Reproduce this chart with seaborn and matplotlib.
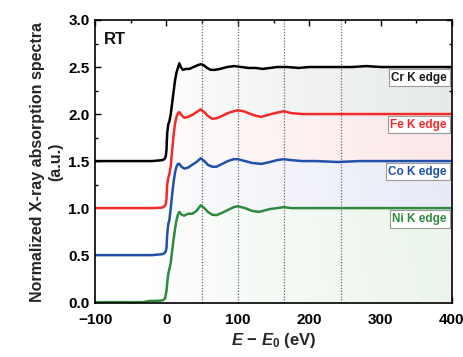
import numpy as np
import pandas as pd
import matplotlib
matplotlib.use("Agg")
import matplotlib.pyplot as plt
import seaborn as sns
from matplotlib.ticker import MultipleLocator, FormatStrFormatter
from matplotlib.colors import to_rgb

# Normalized K-edge XANES spectra (E - E0 in eV, normalized absorption)
cr_energy = [-100, -60, -20, -6, -3, -1, 0, 1, 2.5, 4, 6, 8, 10, 12, 14, 16, 18, 20, 23, 27, 32, 38,
             44, 48, 52, 57, 62, 68, 75, 85, 95, 105, 115, 125, 135, 145, 155, 170, 185, 200, 220,
             240, 260, 280, 300, 330, 360, 400]
cr_mu = [0, 0, 0, 0.01, 0.02, 0.05, 0.12, 0.30, 0.39, 0.42, 0.50, 0.62, 0.74, 0.86, 0.94, 0.99, 1.04,
         1.00, 0.97, 0.98, 0.98, 1.00, 1.02, 1.03, 1.02, 0.99, 0.97, 0.97, 0.98, 1.00, 1.01, 1.00,
         0.99, 0.99, 0.98, 0.99, 1.00, 1.00, 0.99, 1.00, 1.00, 1.00, 1.00, 1.01, 1.00, 1.00, 1.00, 1.00]

fe_energy = [-100, -60, -20, -6, -3, -1, 0, 1, 2.5, 4, 6, 8, 10, 12, 14, 16, 18, 21, 25, 30, 36, 42,
             48, 53, 58, 64, 70, 78, 86, 94, 100, 108, 118, 126, 133, 142, 152, 164, 175, 190, 210,
             240, 270, 300, 340, 400]
fe_mu = [0, 0, 0, 0.005, 0.02, 0.04, 0.10, 0.25, 0.32, 0.36, 0.45, 0.62, 0.78, 0.90, 0.97, 1.01, 1.02,
         0.99, 0.96, 0.97, 0.99, 1.02, 1.05, 1.02, 0.98, 0.95, 0.955, 0.98, 1.01, 1.03, 1.04, 1.03,
         1.00, 0.98, 0.97, 0.99, 1.01, 1.03, 1.01, 1.00, 1.00, 1.00, 1.00, 1.00, 1.00, 1.00]

co_energy = [-100, -60, -20, -6, -3, -1, 0, 1, 2.5, 4, 6, 8, 10, 12, 14, 16, 18, 21, 25, 30, 36, 42,
             48, 53, 58, 64, 70, 78, 86, 94, 100, 110, 120, 133, 145, 155, 164, 175, 190, 210, 240,
             270, 300, 340, 400]
co_mu = [0, 0, 0, 0.01, 0.02, 0.04, 0.08, 0.22, 0.33, 0.37, 0.50, 0.65, 0.78, 0.88, 0.94, 0.97, 0.97,
         0.94, 0.92, 0.93, 0.96, 0.99, 1.03, 1.00, 0.96, 0.94, 0.94, 0.97, 1.00, 1.02, 1.02, 1.00,
         0.98, 0.97, 0.99, 1.01, 1.02, 1.01, 1.00, 1.00, 0.99, 1.00, 1.00, 1.00, 1.00]

ni_energy = [-100, -60, -32, -25, -10, -5, -2, 0, 1, 2.5, 4, 6, 8, 10, 12, 14, 16, 18, 21, 25, 30, 36,
             42, 48, 53, 58, 64, 70, 78, 86, 94, 100, 110, 120, 130, 145, 155, 164, 175, 190, 210,
             240, 270, 300, 340, 400]
ni_mu = [0, 0, 0, 0.012, 0.015, 0.02, 0.04, 0.12, 0.20, 0.30, 0.35, 0.42, 0.55, 0.67, 0.78, 0.87, 0.93,
         0.96, 0.93, 0.92, 0.94, 0.94, 0.97, 1.03, 1.00, 0.96, 0.93, 0.925, 0.95, 0.98, 1.01, 1.02,
         1.00, 0.97, 0.96, 0.99, 1.00, 1.01, 1.00, 1.00, 1.00, 1.00, 1.00, 1.00, 1.00, 1.00]

edge_labels = ["Cr K edge", "Fe K edge", "Co K edge", "Ni K edge"]
offsets = [1.5, 1.0, 0.5, 0.0]
line_colors = ["#000000", "#f22a2a", "#2150a8", "#2f8a3f"]
text_colors = ["#1a1a1a", "#f22a2a", "#2150a8", "#2f8a3f"]
band_tints = ["#e6e9ea", "#fbe6e6", "#e6e8f6", "#e8f3e8"]
guide_energies = [50, 100.5, 164.5, 244.5]

energies = [cr_energy, fe_energy, co_energy, ni_energy]
spectra = [cr_mu, fe_mu, co_mu, ni_mu]

frames = []
for name, e, mu, off in zip(edge_labels, energies, spectra, offsets):
    frames.append(pd.DataFrame({"energy": e, "intensity": np.asarray(mu) + off, "edge": name}))
df = pd.concat(frames, ignore_index=True)

sns.set_theme(style="ticks")
plt.rcParams["font.family"] = ["Liberation Sans", "DejaVu Sans"]
plt.rcParams["font.weight"] = "bold"
plt.rcParams["axes.labelweight"] = "bold"
plt.rcParams["mathtext.fontset"] = "custom"
plt.rcParams["mathtext.rm"] = "Liberation Sans:bold"
plt.rcParams["mathtext.it"] = "Liberation Sans:italic:bold"
plt.rcParams["mathtext.bf"] = "Liberation Sans:bold"
plt.rcParams["axes.unicode_minus"] = True

fig = plt.figure(figsize=(4.64, 3.57), dpi=100)
ax = fig.add_axes([0.205, 0.151, 0.769, 0.793])

xmin, xmax, ymin, ymax = -100, 400, 0.0, 3.0

# Gradient shading beneath each spectrum, white on the left, tinted on the right
nx, ny = 300, 200
gx = np.linspace(0, 1, nx)
gy = np.linspace(0, 1, ny)
GX, GY = np.meshgrid(gx, gy)
weight = np.clip((GX - 0.15) / 0.85, 0, 1) ** 0.8
weight = np.clip(weight * (0.85 + 0.15 * GY), 0, 1)
for i, name in enumerate(edge_labels):
    sub = df[df["edge"] == name]
    poly = ax.fill_between(sub["energy"], sub["intensity"], ymin - 0.05, color="none", lw=0)
    tint = np.array(to_rgb(band_tints[i]))
    rgb = 1 - weight[..., None] * (1 - tint[None, None, :])
    im = ax.imshow(rgb, extent=[xmin, xmax, ymin - 0.05, ymax], origin="lower",
                   aspect="auto", zorder=0.5 + i * 0.1, interpolation="bilinear")
    im.set_clip_path(poly.get_paths()[0], transform=ax.transData)

for ge in guide_energies:
    ax.axvline(ge, color="#6a6a6a", ls=(0, (1.0, 1.3)), lw=0.9, zorder=1.5)

sns.lineplot(data=df, x="energy", y="intensity", hue="edge", palette=line_colors,
             hue_order=edge_labels, estimator=None, sort=False, lw=1.8, legend=False,
             ax=ax, zorder=3)

for name, off, tc in zip(edge_labels, offsets, text_colors):
    ax.text(393, off + 0.885, name, ha="right", va="center", fontsize=8.5, fontweight="bold",
            color=tc, zorder=5,
            bbox=dict(boxstyle="square,pad=0.22", fc="white", ec="#9a9a9a", lw=0.8))

ax.text(-88, 2.79, "RT", fontsize=12, fontweight="bold", ha="left", va="center", color="#111111")

ax.set_xlim(xmin, xmax)
ax.set_ylim(ymin - 0.01, ymax)
ax.xaxis.set_major_locator(MultipleLocator(100))
ax.xaxis.set_minor_locator(MultipleLocator(50))
ax.yaxis.set_major_locator(MultipleLocator(0.5))
ax.yaxis.set_minor_locator(MultipleLocator(0.25))
ax.yaxis.set_major_formatter(FormatStrFormatter("%.1f"))
ax.tick_params(which="both", direction="in", top=True, right=True, colors="black",
               labelsize=11, width=1.0)
ax.tick_params(which="major", length=4)
ax.tick_params(which="minor", length=2.5)
ax.tick_params(axis="x", which="major", pad=7)
ax.tick_params(axis="y", which="major", pad=4)
for lab in ax.get_xticklabels() + ax.get_yticklabels():
    lab.set_fontweight("bold")
for sp in ax.spines.values():
    sp.set_linewidth(1.2)
    sp.set_color("black")
    sp.set_zorder(6)

ax.set_xlabel(r"$E$ $-$ $E_0$ (eV)", fontsize=12, labelpad=3)
ax.set_ylabel("Normalized X-ray absorption spectra\n(a.u.)", fontsize=11.5,
              multialignment="center", labelpad=4, linespacing=1.25)

fig.savefig("out.png", dpi=100)
